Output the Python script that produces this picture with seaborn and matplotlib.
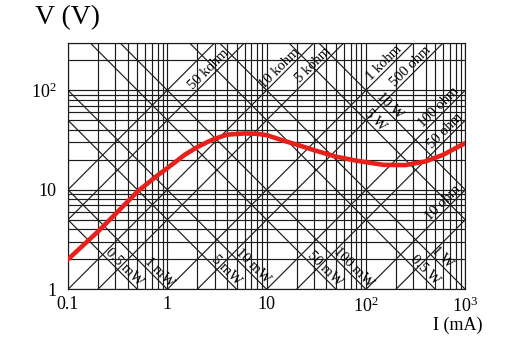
import numpy as np
import pandas as pd
import matplotlib
matplotlib.use("Agg")
import matplotlib.pyplot as plt
import seaborn as sns
from matplotlib.ticker import FixedLocator, LogLocator, NullFormatter

# Measured V-I characteristic (I in mA, V in volts)
current_ma = [0.1, 0.2, 0.3, 0.5, 0.8, 1.0, 1.5, 2.0, 2.5, 3.0, 4.0, 6.0, 8.0, 10, 15,
              20, 30, 50, 80, 150, 250, 400, 600, 1000]
voltage_v = [2.0, 3.8, 5.7, 9.6, 14.0, 16.5, 22.5, 26.8, 30.0, 32.5, 35.8, 36.8, 36.5,
             35.4, 31.0, 28.5, 25.0, 21.5, 19.6, 17.8, 17.7, 19.3, 22.5, 29.5]

# Constant-resistance reference lines (ohm) and their labels
resist_ohm = [100e3, 50e3, 10e3, 5e3, 1e3, 500, 100, 50, 10, 5]
resist_labels = ["", "50 kohm", "10 kohm", "5 kohm", "1 kohm", "500 ohm",
                 "100 ohm", "50 ohm", "10 ohm", ""]
resist_label_at_ma = [None, 2.91, 15.0, 32.4, 169, 311, 605, 695, 669, None]

# Constant-power reference lines (mW) and their labels
power_mw = [0.5, 1, 5, 10, 50, 100, 500, 1000, 5000, 10000]
power_labels = ["0.5 mW", "1 mW", "5 mW", "10 mW", "50 mW", "100 mW",
                "0.5 W", "1 W", "5 W", "10 W"]
power_label_at_ma = [0.334, 0.75, 3.56, 6.48, 34.9, 66.7, 354, 525, 110, 157.6]

x_ticks = [0.1, 1, 10, 100, 1000]
x_ticklabels = ["0.1", "1", "10", r"$\mathregular{10^2}$", r"$\mathregular{10^3}$"]
y_ticks = [1, 10, 100]
y_ticklabels = ["1", "10", r"$\mathregular{10^2}$"]

sns.set_style("white")
plt.rcParams["font.family"] = ["Liberation Serif", "DejaVu Serif"]
plt.rcParams["mathtext.fontset"] = "custom"
plt.rcParams["mathtext.rm"] = "Liberation Serif"
plt.rcParams["text.color"] = "black"

fig = plt.figure(figsize=(5.12, 3.42), dpi=100)
ax = fig.add_axes([0.1328, 0.154, 0.776, 0.721])
ax.set_xscale("log")
ax.set_yscale("log")
x_lo, x_hi = 0.1, 1000
y_lo, y_hi = 1, 300
ax.set_xlim(x_lo, x_hi)
ax.set_ylim(y_lo, y_hi)

line_kw = dict(color="#1c1c1c", linewidth=0.85)

# log grid
ax.xaxis.set_major_locator(FixedLocator(x_ticks))
ax.yaxis.set_major_locator(FixedLocator(y_ticks))
ax.xaxis.set_minor_locator(LogLocator(base=10, subs=np.arange(2, 10)))
ax.yaxis.set_minor_locator(LogLocator(base=10, subs=np.arange(2, 10)))
ax.xaxis.set_minor_formatter(NullFormatter())
ax.yaxis.set_minor_formatter(NullFormatter())
ax.grid(True, which="both", **line_kw)
ax.set_axisbelow(True)

i_span = np.array([x_lo, x_hi])

# resistance lines: V = I * R
for r, lab, at in zip(resist_ohm, resist_labels, resist_label_at_ma):
    ax.plot(i_span, i_span * r / 1000.0, **line_kw)
    if lab:
        ax.text(at, at * r / 1000.0, lab, rotation=45, rotation_mode="anchor",
                ha="center", va="bottom", fontsize=10.5, color="black")

# power lines: V = P / I
for p, lab, at in zip(power_mw, power_labels, power_label_at_ma):
    ax.plot(i_span, p / i_span, **line_kw)
    ax.text(at, p / at, lab, rotation=-45, rotation_mode="anchor",
            ha="center", va="bottom", fontsize=10.5, color="black")

df = pd.DataFrame({"I": current_ma, "V": voltage_v})
sns.lineplot(data=df, x="I", y="V", ax=ax, color="#e8201c", linewidth=3.3,
             solid_capstyle="round", solid_joinstyle="round", zorder=5)

ax.set_xticks(x_ticks)
ax.set_xticklabels(x_ticklabels)
ax.set_yticks(y_ticks)
ax.set_yticklabels(y_ticklabels)
ax.tick_params(axis="both", which="both", length=0, labelsize=13, labelcolor="black")
ax.tick_params(axis="y", pad=8)
ax.tick_params(axis="x", pad=5)
ax.set_xlabel("")
ax.set_ylabel("")
for s in ax.spines.values():
    s.set_color("#1c1c1c")
    s.set_linewidth(0.85)

fig.text(35 / 512, 1 - 18 / 342, "V (V)", fontsize=20, ha="left", va="center",
         color="black")
fig.text(458 / 512, 1 - 325 / 342, "I (mA)", fontsize=13, ha="center", va="center",
         color="black")

fig.savefig("out.png", dpi=100, facecolor="white")
